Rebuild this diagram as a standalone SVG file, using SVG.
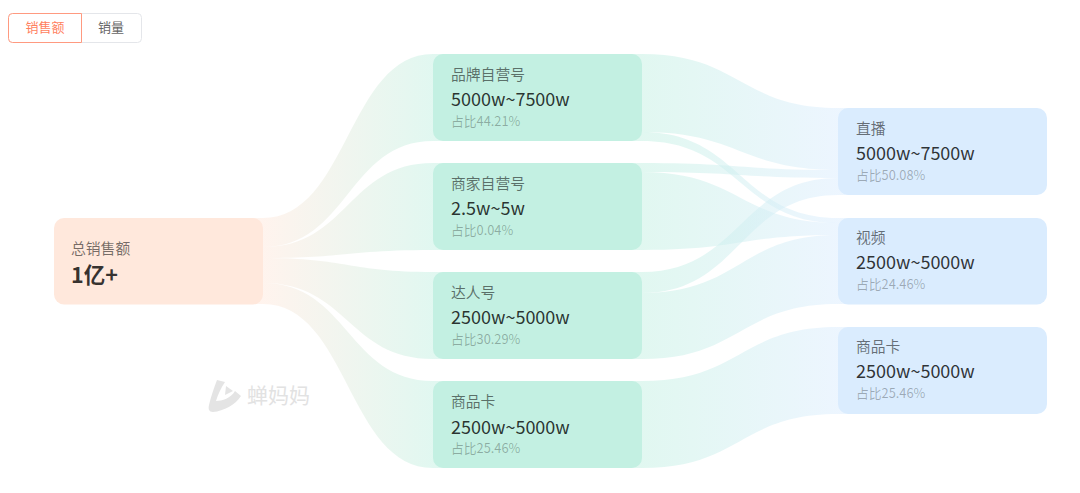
<svg xmlns="http://www.w3.org/2000/svg" width="1080" height="493" viewBox="0 0 1080 493">
<style>
text{font-family:"Noto Sans CJK SC","Noto Sans",sans-serif}
.a{fill:url(#ga)}.b{fill:url(#gb)}
.n0{fill:#ffe8dc}.n1{fill:#c3f0e2}.n2{fill:#daecfe}
.l{font-size:14.800px;fill:#000;fill-opacity:.55}
.v{font-size:18px;fill:#000;fill-opacity:.8}
.p{font-size:12.800px;fill:#000;fill-opacity:.28}
.wm{font-size:21px;fill:#e2e2e2}
.t{font-size:13px;text-anchor:middle}
</style>
<defs>
<linearGradient id="ga" gradientUnits="userSpaceOnUse" x1="263" y1="0" x2="433" y2="0"><stop offset="0" stop-color="#ffe8dc" stop-opacity=".5"/><stop offset="1" stop-color="#c3f0e2" stop-opacity=".5"/></linearGradient>
<linearGradient id="gb" gradientUnits="userSpaceOnUse" x1="642" y1="0" x2="838" y2="0"><stop offset="0" stop-color="#c3f0e2" stop-opacity=".5"/><stop offset="1" stop-color="#daecfe" stop-opacity=".5"/></linearGradient>
</defs>
<g id="tabs">
<rect x="8.500" y="13.500" width="133" height="29" rx="4" fill="#fff" stroke="#e4e6ea"/>
<path d="M81.500 13.500H12.500a4 4 0 0 0-4 4v21a4 4 0 0 0 4 4H81.500Z" fill="#fff" stroke="#ff9a80"/>
<text class="t" x="45" y="31.500" fill="#ff7f5f">销售额</text>
<text class="t" x="111" y="31.500" fill="#666">销量</text>
</g>
<g id="connectors">
<path class="a" d="M253 218H263C348 218 348 54 433 54H443V141H433C348 141 348 247 263 247H253Z"/>
<path class="a" d="M253 247H263C348 247 348 163 433 163H443V250H433C348 250 348 258 263 258H253Z"/>
<path class="a" d="M253 258H263C348 258 348 272 433 272H443V359H433C348 359 348 283 263 283H253Z"/>
<path class="a" d="M253 283H263C348 283 348 381 433 381H443V468H433C348 468 348 304 263 304H253Z"/>
<path class="b" d="M632 54H642C740 54 740 108 838 108H848V170H838C740 170 740 132 642 132H632Z"/>
<path class="b" d="M632 132H642C740 132 740 218 838 218H848V223H838C740 223 740 141 642 141H632Z"/>
<path class="b" d="M632 163H642C740 163 740 170 838 170H848V178H838C740 178 740 172 642 172H632Z"/>
<path class="b" d="M632 172H642C740 172 740 223 838 223H848V235H838C740 235 740 250 642 250H632Z"/>
<path class="b" d="M632 272H642C740 272 740 178 838 178H848V195H838C740 195 740 293 642 293H632Z"/>
<path class="b" d="M632 293H642C740 293 740 235 838 235H848V304H838C740 304 740 359 642 359H632Z"/>
<path class="b" d="M632 381H642C740 381 740 327 838 327H848V414H838C740 414 740 468 642 468H632Z"/>
</g>
<g id="watermark">
<path d="M217 380L225 382C221 388 218 394 216 401C222 401 231 398 235 391L241 396C235 405 224 411 213 412C209 412 208 409 209 405C211 396 214 388 217 380Z M226 386L233 391L225 395Z" fill="#e4e4e4"/>
<text class="wm" x="247" y="403">蝉妈妈</text>
</g>
<g id="node-total"><rect class="n0" x="54" y="218" width="209" height="86.500" rx="10"/><text class="l" x="71" y="254">总销售额</text><text x="71" y="283" font-size="21.500" font-weight="700" fill="#000" fill-opacity=".8">1亿+</text></g>
<g id="node-brand"><rect class="n1" x="433" y="54" width="209" height="87" rx="10"/><text class="l" x="451" y="80">品牌自营号</text><text class="v" x="451" y="106">5000w~7500w</text><text class="p" x="451" y="126">占比44.21%</text></g>
<g id="node-merchant"><rect class="n1" x="433" y="163" width="209" height="87" rx="10"/><text class="l" x="451" y="189">商家自营号</text><text class="v" x="451" y="215">2.5w~5w</text><text class="p" x="451" y="235">占比0.04%</text></g>
<g id="node-talent"><rect class="n1" x="433" y="272" width="209" height="87" rx="10"/><text class="l" x="451" y="298">达人号</text><text class="v" x="451" y="324">2500w~5000w</text><text class="p" x="451" y="344">占比30.29%</text></g>
<g id="node-card-mid"><rect class="n1" x="433" y="381" width="209" height="87" rx="10"/><text class="l" x="451" y="407">商品卡</text><text class="v" x="451" y="434">2500w~5000w</text><text class="p" x="451" y="453">占比25.46%</text></g>
<g id="node-live"><rect class="n2" x="838" y="108" width="209" height="87" rx="10"/><text class="l" x="856" y="134">直播</text><text class="v" x="856" y="160">5000w~7500w</text><text class="p" x="856" y="180">占比50.08%</text></g>
<g id="node-video"><rect class="n2" x="838" y="218" width="209" height="86.500" rx="10"/><text class="l" x="856" y="243">视频</text><text class="v" x="856" y="269">2500w~5000w</text><text class="p" x="856" y="289">占比24.46%</text></g>
<g id="node-card-right"><rect class="n2" x="838" y="327" width="209" height="87" rx="10"/><text class="l" x="856" y="352">商品卡</text><text class="v" x="856" y="378">2500w~5000w</text><text class="p" x="856" y="398">占比25.46%</text></g>
</svg>
